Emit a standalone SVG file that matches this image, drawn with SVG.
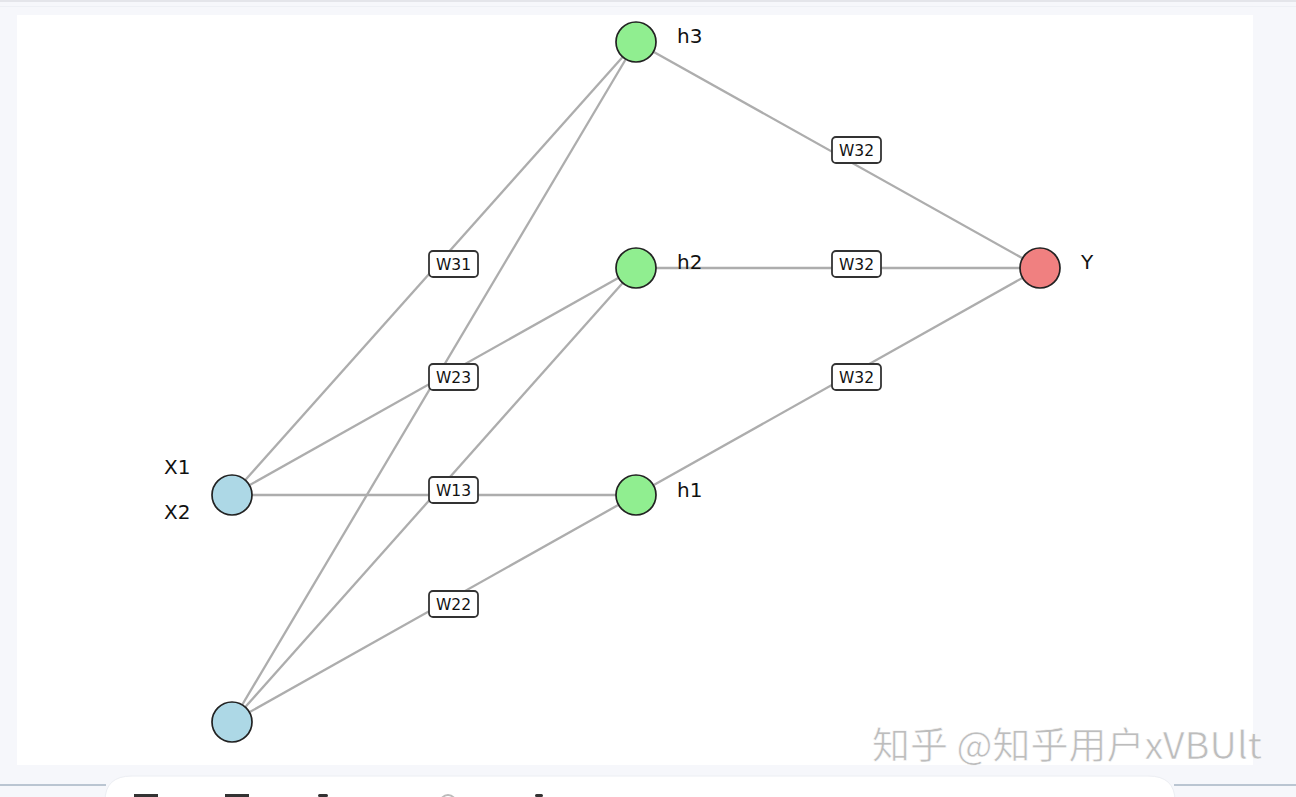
<svg xmlns="http://www.w3.org/2000/svg" width="1296" height="797" viewBox="0 0 1296 797">
<style>
.edge{stroke:#adadad;stroke-width:2.3;fill:none}
.node{stroke:#222;stroke-width:1.7}
.in{fill:#add8e6}.hid{fill:#90ee90}.out{fill:#f08080}
.lbl{font-family:"DejaVu Sans",sans-serif;font-size:20px;fill:#111}
.wbox{fill:#fff;stroke:#333;stroke-width:1.8}
.wt{font-family:"DejaVu Sans",sans-serif;font-size:15.5px;fill:#111;text-anchor:middle}
.wm{font-family:"Noto Sans CJK SC","Noto Sans",sans-serif;font-size:37px;fill:#bdbdbd;stroke:#ffffff;stroke-width:0.6}
</style>
<rect x="0" y="0" width="1296" height="797" fill="#f6f7fb"/>
<rect x="0" y="0" width="1296" height="2" fill="#e4e5ea"/>
<rect x="0" y="6" width="1296" height="1" fill="#eef0f5"/>
<rect x="17" y="15" width="1236" height="750" fill="#ffffff"/>
<path d="M105 797 V801 Q105 776 132 776 H1148 Q1175 776 1175 801 V797" fill="#ffffff" stroke="#eceef3" stroke-width="1"/>
<line x1="0" y1="785" x2="106" y2="785" stroke="#7e93a8" stroke-width="1"/>
<line x1="1174" y1="785" x2="1296" y2="785" stroke="#7e93a8" stroke-width="1"/>
<g id="bottom-icons" fill="#333">
<rect x="134" y="794" width="24" height="3"/>
<rect x="225" y="794" width="24" height="3"/>
<rect x="318" y="794" width="10" height="3" rx="1.5"/>
<circle cx="448" cy="803" r="8" fill="none" stroke="#bbb" stroke-width="2"/>
<rect x="535" y="794" width="8" height="3" rx="1.5"/>
</g>
<g id="connectors">
<line class="edge" x1="232" y1="495" x2="636" y2="42"/>
<line class="edge" x1="232" y1="495" x2="636" y2="268"/>
<line class="edge" x1="232" y1="495" x2="636" y2="495"/>
<line class="edge" x1="232" y1="722" x2="636" y2="42"/>
<line class="edge" x1="232" y1="722" x2="636" y2="268"/>
<line class="edge" x1="232" y1="722" x2="636" y2="495"/>
<line class="edge" x1="636" y1="42" x2="1040" y2="268"/>
<line class="edge" x1="636" y1="268" x2="1040" y2="268"/>
<line class="edge" x1="636" y1="495" x2="1040" y2="268"/>
</g>
<g id="edge-labels">
<g id="w31"><rect class="wbox" x="429" y="251" width="49" height="26" rx="4"/><text class="wt" x="453.5" y="269.5">W31</text></g>
<g id="w23"><rect class="wbox" x="429" y="364" width="49" height="26" rx="4"/><text class="wt" x="453.5" y="382.5">W23</text></g>
<g id="w13"><rect class="wbox" x="429" y="477" width="49" height="26" rx="4"/><text class="wt" x="453.5" y="495.5">W13</text></g>
<g id="w22"><rect class="wbox" x="429" y="591" width="49" height="26" rx="4"/><text class="wt" x="453.5" y="609.5">W22</text></g>
<g id="w32a"><rect class="wbox" x="832" y="137" width="49" height="26" rx="4"/><text class="wt" x="856.5" y="155.5">W32</text></g>
<g id="w32b"><rect class="wbox" x="832" y="251" width="49" height="26" rx="4"/><text class="wt" x="856.5" y="269.5">W32</text></g>
<g id="w32c"><rect class="wbox" x="832" y="364" width="49" height="26" rx="4"/><text class="wt" x="856.5" y="382.5">W32</text></g>
</g>
<g id="x1"><circle class="node in" cx="232" cy="495" r="20"/></g>
<g id="x2"><circle class="node in" cx="232" cy="722" r="20"/></g>
<g id="h3"><circle class="node hid" cx="636" cy="42" r="20"/><text class="lbl" x="677" y="43">h3</text></g>
<g id="h2"><circle class="node hid" cx="636" cy="268" r="20"/><text class="lbl" x="677" y="269">h2</text></g>
<g id="h1"><circle class="node hid" cx="636" cy="495" r="20"/><text class="lbl" x="677" y="497">h1</text></g>
<g id="y"><circle class="node out" cx="1040" cy="268" r="20"/><text class="lbl" x="1081" y="269">Y</text></g>
<g id="input-labels">
<text class="lbl" x="164" y="474">X1</text>
<text class="lbl" x="164" y="519">X2</text>
</g>
<text class="wm" x="872" y="759" textLength="390" lengthAdjust="spacingAndGlyphs">知乎 @知乎用户xVBUlt</text>
</svg>
